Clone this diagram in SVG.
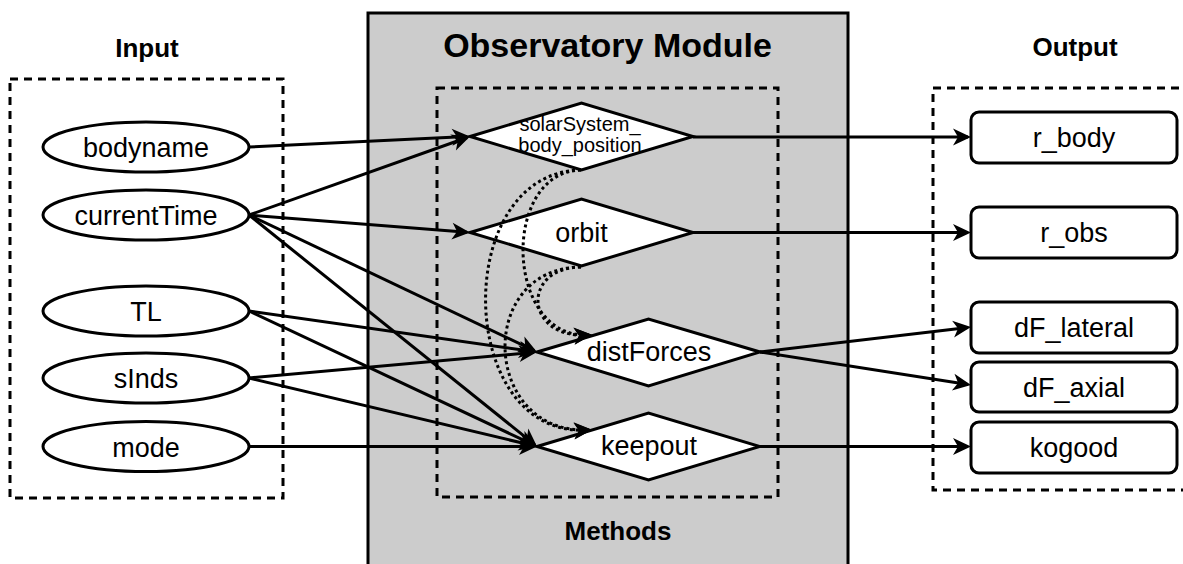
<svg xmlns="http://www.w3.org/2000/svg" width="1183" height="564" viewBox="0 0 1183 564">
<style>
text{font-family:"Liberation Sans",Arial,Helvetica,sans-serif;fill:#000;text-anchor:middle}
.lbl{font-size:27px}
.hd{font-size:26px;font-weight:bold}
.title{font-size:34px;font-weight:bold}
.small{font-size:20px}
.dash{fill:none;stroke:#000;stroke-width:3;stroke-dasharray:8 6}
.node{fill:#fff;stroke:#000;stroke-width:3}
.edge{fill:none;stroke:#000;stroke-width:3;marker-end:url(#arr)}
.dot{fill:none;stroke:#000;stroke-width:3;stroke-dasharray:3 3;marker-end:url(#arr)}
</style>
<defs>
<marker id="arr" viewBox="-20 -10 22 20" markerWidth="22" markerHeight="20" refX="-3" refY="0" orient="auto" markerUnits="userSpaceOnUse">
<path d="M0,0 L-18,-8.5 L-13,0 L-18,8.5 Z" fill="#000"/>
</marker>
</defs>
<rect width="1183" height="564" fill="#fff"/>

<g id="input-group">
<text class="hd" x="147" y="57">Input</text>
<rect class="dash" x="10" y="79" width="273" height="419"/>
</g>
<g id="module">
<rect x="368" y="13" width="480" height="600" fill="#cccccc" stroke="#000" stroke-width="3"/>
<text class="title" x="607.5" y="57">Observatory Module</text>
<rect class="dash" x="437" y="88" width="341" height="409"/>
<text class="hd" x="618" y="540">Methods</text>
</g>
<g id="output-group">
<text class="hd" x="1075" y="56">Output</text>
<rect class="dash" x="933" y="88" width="270" height="402"/>
</g>

<g id="bodyname"><ellipse class="node" cx="146" cy="147" rx="103" ry="25"/><text class="lbl" x="146" y="157">bodyname</text></g>
<g id="currentTime"><ellipse class="node" cx="146" cy="215" rx="103" ry="25"/><text class="lbl" x="146" y="225">currentTime</text></g>
<g id="TL"><ellipse class="node" cx="146" cy="311" rx="103" ry="25"/><text class="lbl" x="146" y="321">TL</text></g>
<g id="sInds"><ellipse class="node" cx="146" cy="378" rx="103" ry="25"/><text class="lbl" x="146" y="388">sInds</text></g>
<g id="mode"><ellipse class="node" cx="146" cy="446.5" rx="103" ry="25"/><text class="lbl" x="146" y="456.5">mode</text></g>

<g id="solarSystem_body_position"><polygon class="node" points="470,136.5 581.5,103 693,136.5 581.5,170"/><text class="small" x="580" y="131">solarSystem_</text><text class="small" x="580" y="152">body_position</text></g>
<g id="orbit"><polygon class="node" points="470,232.5 581.5,199 693,232.5 581.5,266"/><text class="lbl" x="581.5" y="242">orbit</text></g>
<g id="distForces"><polygon class="node" points="537,352 648.5,319 760,352 648.5,386"/><text class="lbl" x="649" y="361">distForces</text></g>
<g id="keepout"><polygon class="node" points="537,446.5 648.5,413 760,446.5 648.5,480"/><text class="lbl" x="649" y="455">keepout</text></g>

<g id="r_body"><rect class="node" x="971" y="112" width="206" height="51" rx="8"/><text class="lbl" x="1074" y="147">r_body</text></g>
<g id="r_obs"><rect class="node" x="971" y="207" width="206" height="51" rx="8"/><text class="lbl" x="1074" y="242">r_obs</text></g>
<g id="dF_lateral"><rect class="node" x="971" y="302" width="206" height="51" rx="8"/><text class="lbl" x="1074" y="337">dF_lateral</text></g>
<g id="dF_axial"><rect class="node" x="971" y="362" width="206" height="50" rx="8"/><text class="lbl" x="1074" y="396.5">dF_axial</text></g>
<g id="kogood"><rect class="node" x="971" y="422" width="206" height="51" rx="8"/><text class="lbl" x="1074" y="456.5">kogood</text></g>

<g id="connectors">
<path class="edge" d="M249,147 L467,136.6"/>
<path class="edge" d="M249,215 L467.2,137.5"/>
<path class="edge" d="M249,215 L467,232.3"/>
<path class="edge" d="M249,215 L534.3,350.7"/>
<path class="edge" d="M249,215 L534.7,444.6"/>
<path class="edge" d="M249,311 L534,351.6"/>
<path class="edge" d="M249,311 L534.3,445.2"/>
<path class="edge" d="M249,378 L534,352.3"/>
<path class="edge" d="M249,378 L534.1,445.8"/>
<path class="edge" d="M249,446.5 L534,446.5"/>
<path class="edge" d="M693,137 L968,137"/>
<path class="edge" d="M693,232.5 L968,232.5"/>
<path class="edge" d="M760,352 L968,327.4"/>
<path class="edge" d="M760,352 L968,384.5"/>
<path class="edge" d="M760,446.5 L968,446.5"/>
<path class="dot" d="M581,170 C500,172 505,340 589,335"/>
<path class="dot" d="M581,170 C450,172 455,440 589,430"/>
<path class="dot" d="M581,267 C520,268 525,340 589,335"/>
<path class="dot" d="M581,267 C475,268 482,435 589,430"/>
</g>
</svg>
